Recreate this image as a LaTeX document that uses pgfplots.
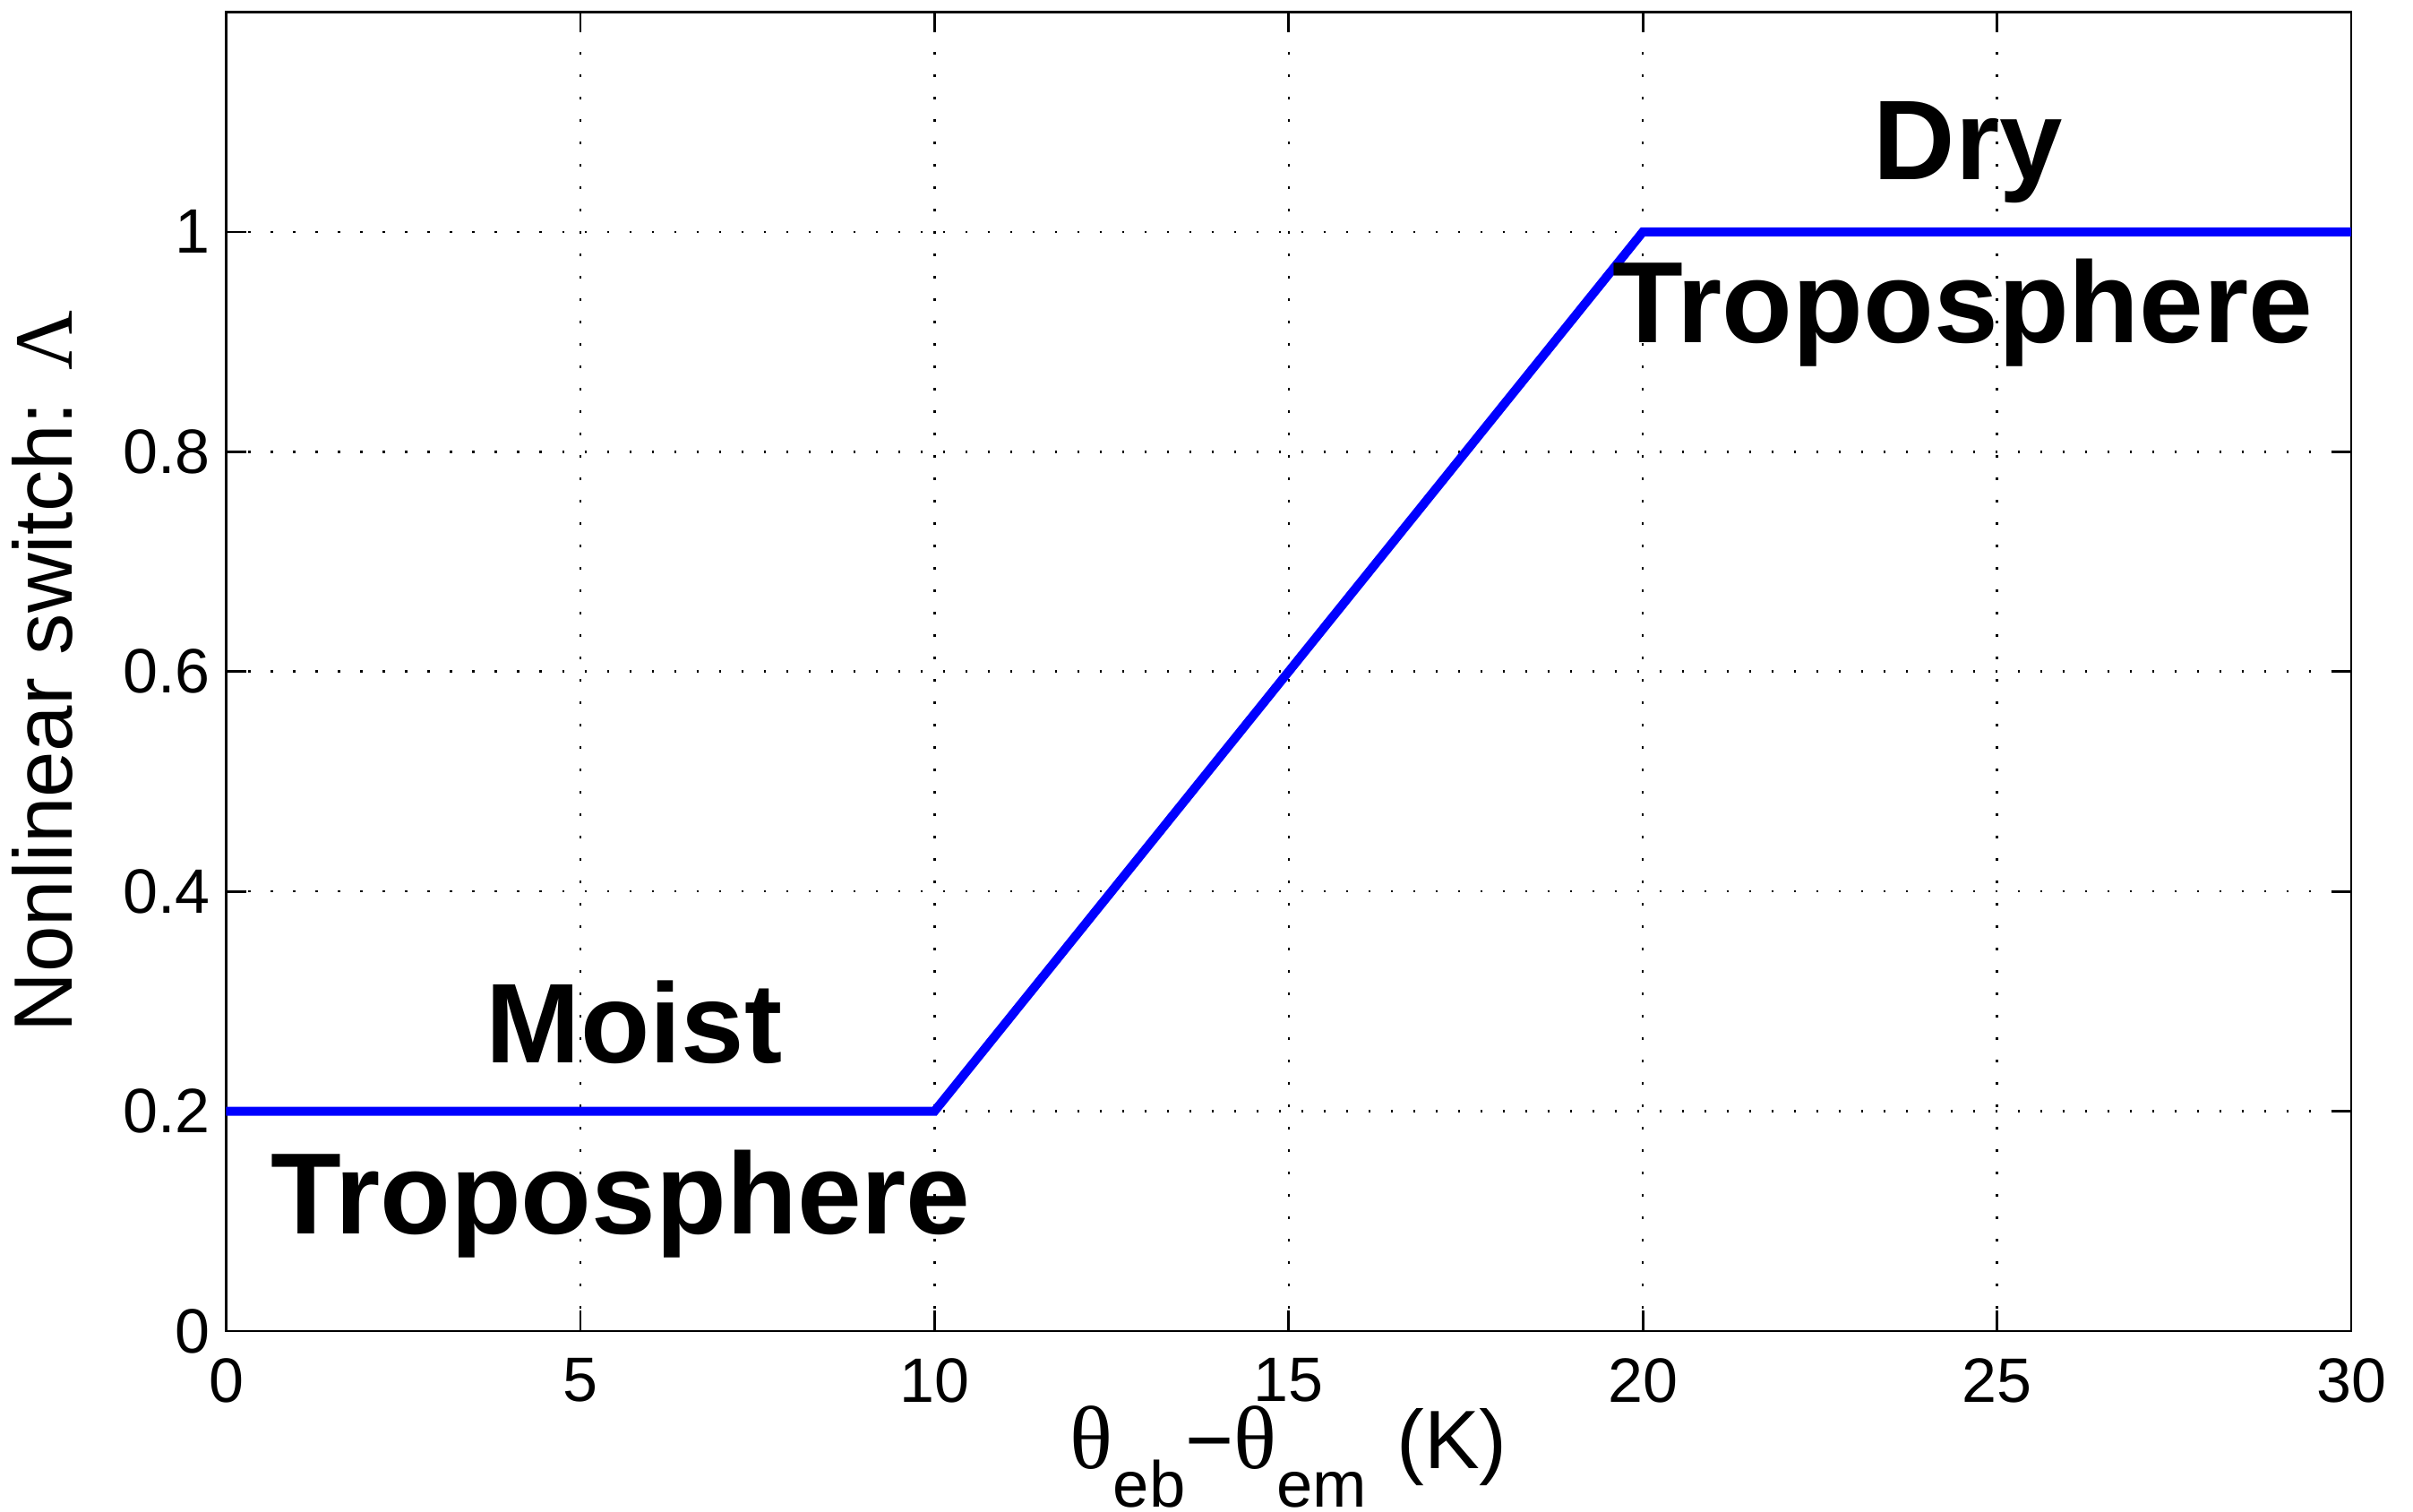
\documentclass[border=0pt]{standalone}
\usepackage{fontspec}
\setmainfont{Liberation Sans}
\newfontfamily\greek{Liberation Serif}
\usepackage{pgfplots}
\pgfplotsset{compat=1.18}
\begin{document}
\begin{tikzpicture}
\begin{axis}[
  scale only axis, width=474.5pt, height=294.5pt,
  xmin=0, xmax=30, ymin=0, ymax=1.2,
  xtick={0,5,...,30}, ytick={0,0.2,0.4,0.6,0.8,1},
  tick align=inside, major tick length=4.5pt,
  tick style={black, line width=0.55pt},
  axis line style={line width=0.55pt},
  grid=major,
  grid style={black, line width=0.5pt, dash pattern=on 0.5pt off 4.5pt},
  tick label style={font=\fontsize{14}{16}\selectfont},
  /pgf/number format/assume math mode=true,
  xticklabel style={yshift=-2.5pt},
  yticklabel style={inner xsep=0pt, xshift=-3.4pt},
  every axis x label/.style={at={(axis description cs:0.5,0)}, anchor=base, yshift=-30.8pt, font=\fontsize{18.5}{20}\selectfont},
  every axis y label/.style={at={(axis description cs:-0.0725,0.5)}, anchor=base, rotate=90, font=\fontsize{18.5}{20}\selectfont},
  xlabel={{\fontsize{20}{20}\greek θ}\raisebox{-8.6pt}{\fontsize{14.5}{16}\selectfont eb}−{\fontsize{20}{20}\greek θ}\raisebox{-8.6pt}{\fontsize{14.5}{16}\selectfont em}\hspace{1.5pt} (K)},
  ylabel={Nonlinear switch: {\greek Λ}},
]
\addplot[color={rgb,255:red,0;green,0;blue,255}, line width=2pt] coordinates {(0,0.2) (10,0.2) (20,1) (30,1)};
\node[anchor=base, inner sep=0pt, font=\fontsize{25.3}{28}\selectfont\bfseries] at (axis cs:5.76,0.2437) {Moist};
\node[anchor=base, inner sep=0pt, font=\fontsize{25.8}{28}\selectfont\bfseries] at (axis cs:5.57,0.0888) {Troposphere};
\node[anchor=base, inner sep=0pt, font=\fontsize{25.3}{28}\selectfont\bfseries] at (axis cs:24.59,1.048) {Dry};
\node[anchor=base, inner sep=0pt, font=\fontsize{25.8}{28}\selectfont\bfseries] at (axis cs:24.52,0.899) {Troposphere};
\end{axis}
\pgfresetboundingbox
\path[use as bounding box] (-50.5pt,-40.4pt) rectangle (488.3pt,297.2pt);
\end{tikzpicture}
\end{document}
